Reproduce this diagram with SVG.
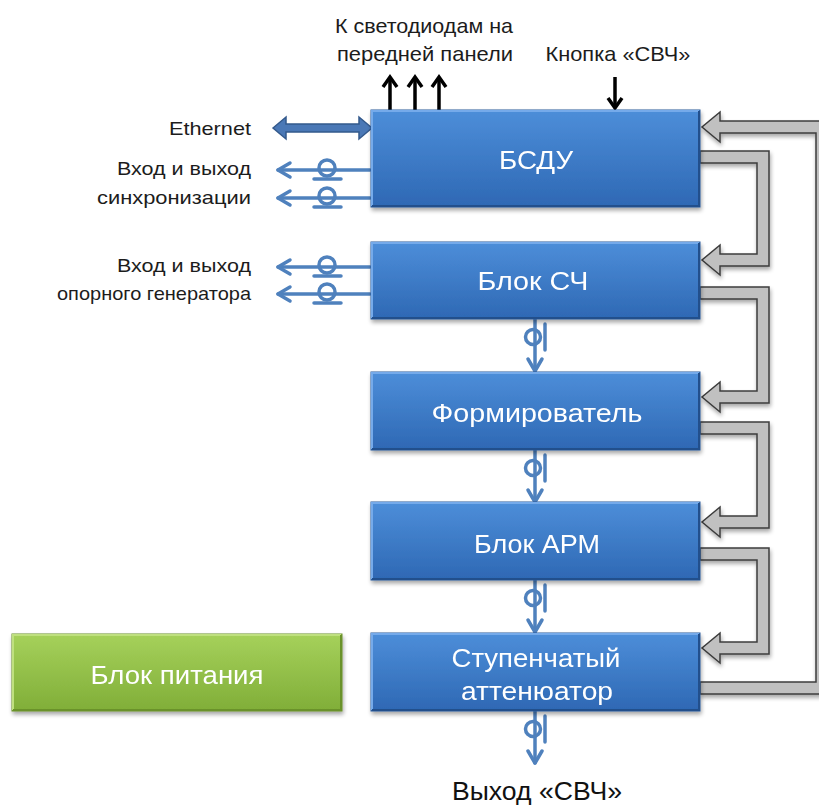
<svg xmlns="http://www.w3.org/2000/svg" width="819" height="805" viewBox="0 0 819 805">
<style>
.lbl{font-family:"Liberation Sans",Arial,sans-serif;font-size:19px;fill:#1c1c1c}
.top{font-family:"Liberation Sans",Arial,sans-serif;font-size:21px;fill:#1c1c1c}
.btxt{font-family:"Liberation Sans",Arial,sans-serif;font-size:26px;fill:#ffffff;text-anchor:middle}
.out{font-family:"Liberation Sans",Arial,sans-serif;font-size:25px;fill:#111;text-anchor:middle}
.blk{fill:url(#gBlue);stroke:#2a5a9a;stroke-width:1}
.grn{fill:url(#gGreen);stroke:#6a8f2a;stroke-width:1}
.hiB{fill:none;stroke:#74aaea;stroke-width:2}
.loB{fill:none;stroke:#22508c;stroke-width:2}
.hiG{fill:none;stroke:#bfe07f;stroke-width:2}
.loG{fill:none;stroke:#6b9229;stroke-width:2}
.bus{fill:#c0c0c0;stroke:#3c3c3c;stroke-width:1.5;stroke-linejoin:miter}
.sig{fill:none;stroke:#4f81bd;stroke-width:3.5;stroke-linecap:round;stroke-linejoin:round}
.blk-arrow{fill:none;stroke:#000;stroke-width:3.5}
</style>
<defs>
<linearGradient id="gBlue" x1="0" y1="0" x2="0" y2="1">
<stop offset="0" stop-color="#4d8ed9"/>
<stop offset="1" stop-color="#2e68b4"/>
</linearGradient>
<linearGradient id="gGreen" x1="0" y1="0" x2="0" y2="1">
<stop offset="0" stop-color="#a6d15b"/>
<stop offset="1" stop-color="#80ae38"/>
</linearGradient>
<filter id="sh" x="-10%" y="-10%" width="120%" height="130%">
<feGaussianBlur in="SourceAlpha" stdDeviation="2"/>
<feOffset dx="1" dy="3" result="o"/>
<feComponentTransfer><feFuncA type="linear" slope="0.35"/></feComponentTransfer>
<feMerge><feMergeNode/><feMergeNode in="SourceGraphic"/></feMerge>
</filter>
<g id="phiV">
<line x1="535" y1="0" x2="535" y2="52" class="sig"/>
<circle cx="533" cy="18" r="7.5" class="sig"/>
<line x1="545" y1="5" x2="545" y2="31" class="sig"/>
<polyline points="528,40 535,52 542,40" class="sig"/>
</g>
<g id="phiH">
<line x1="278" y1="0" x2="370" y2="0" class="sig"/>
<circle cx="327" cy="-2" r="8" class="sig"/>
<line x1="314" y1="9" x2="341" y2="9" class="sig"/>
<polyline points="290,-7 278,0 290,7" class="sig"/>
</g>
</defs>

<g id="connectors">
<polygon class="bus" filter="url(#sh)" points="700,151 769,151 769,266 720,266 720,275 702,260 720,245 720,254 757,254 757,163 700,163"/>
<polygon class="bus" filter="url(#sh)" points="700,287 769,287 769,403 720,403 720,412 702,397 720,382 720,391 757,391 757,299 700,299"/>
<polygon class="bus" filter="url(#sh)" points="700,422 769,422 769,528 720,528 720,537 702,522 720,507 720,516 757,516 757,434 700,434"/>
<polygon class="bus" filter="url(#sh)" points="700,548 769,548 769,654 720,654 720,663 702,648 720,633 720,642 757,642 757,560 700,560"/>
<polygon class="bus" filter="url(#sh)" points="700,682 816,682 816,133 720,133 720,142 702,127 720,112 720,121 830,121 830,694 700,694"/>
<polygon points="273,128 286,117 286,124 359,124 359,117 372,128 359,139 359,132 286,132 286,139" fill="#4a78b6" stroke="#33598c" stroke-width="1.5"/>
<use href="#phiH" transform="translate(0,170)"/>
<use href="#phiH" transform="translate(0,198)"/>
<use href="#phiH" transform="translate(0,267)"/>
<use href="#phiH" transform="translate(0,294)"/>
<use href="#phiV" transform="translate(0,319)"/>
<use href="#phiV" transform="translate(0,450)"/>
<use href="#phiV" transform="translate(0,580)"/>
<use href="#phiV" transform="translate(0,711)"/>
<g class="blk-arrow">
<line x1="390" y1="110" x2="390" y2="78"/><polyline points="383,87 390,77 397,87"/>
<line x1="415" y1="110" x2="415" y2="78"/><polyline points="408,87 415,77 422,87"/>
<line x1="439" y1="110" x2="439" y2="78"/><polyline points="432,87 439,77 446,87"/>
<line x1="615" y1="77" x2="615" y2="107"/><polyline points="608,98 615,108 622,98"/>
</g>
</g>

<g id="n-bsdu" filter="url(#sh)">
<rect class="blk" x="371" y="110" width="329" height="97"/>
<polyline class="hiB" points="372,206 372,111 699,111"/>
<polyline class="loB" points="699,111 699,206 372,206"/>
<text class="btxt" x="536" y="169" textLength="74" lengthAdjust="spacingAndGlyphs">БСДУ</text>
</g>
<g id="n-sch" filter="url(#sh)">
<rect class="blk" x="371" y="242" width="329" height="77"/>
<polyline class="hiB" points="372,318 372,243 699,243"/>
<polyline class="loB" points="699,243 699,318 372,318"/>
<text class="btxt" x="533" y="290" textLength="111" lengthAdjust="spacingAndGlyphs">Блок СЧ</text>
</g>
<g id="n-form" filter="url(#sh)">
<rect class="blk" x="371" y="372" width="329" height="78"/>
<polyline class="hiB" points="372,449 372,373 699,373"/>
<polyline class="loB" points="699,373 699,449 372,449"/>
<text class="btxt" x="537" y="422" textLength="211" lengthAdjust="spacingAndGlyphs">Формирователь</text>
</g>
<g id="n-arm" filter="url(#sh)">
<rect class="blk" x="371" y="502" width="329" height="78"/>
<polyline class="hiB" points="372,579 372,503 699,503"/>
<polyline class="loB" points="699,503 699,579 372,579"/>
<text class="btxt" x="537" y="553" textLength="126" lengthAdjust="spacingAndGlyphs">Блок АРМ</text>
</g>
<g id="n-att" filter="url(#sh)">
<rect class="blk" x="371" y="633" width="329" height="78"/>
<polyline class="hiB" points="372,710 372,634 699,634"/>
<polyline class="loB" points="699,634 699,710 372,710"/>
<text class="btxt" x="536" y="667" textLength="169" lengthAdjust="spacingAndGlyphs">Ступенчатый</text>
<text class="btxt" x="537" y="700" textLength="152" lengthAdjust="spacingAndGlyphs">аттенюатор</text>
</g>
<g id="n-power" filter="url(#sh)">
<rect class="grn" x="12" y="634" width="330" height="77"/>
<polyline class="hiG" points="13,710 13,635 341,635"/>
<polyline class="loG" points="341,635 341,710 13,710"/>
<text class="btxt" x="177" y="684" textLength="173" lengthAdjust="spacingAndGlyphs">Блок питания</text>
</g>

<g id="labels">
<text class="top" x="424" y="33" text-anchor="middle" textLength="178" lengthAdjust="spacingAndGlyphs">К светодиодам на</text>
<text class="top" x="425" y="61" text-anchor="middle" textLength="176" lengthAdjust="spacingAndGlyphs">передней панели</text>
<text class="top" x="618" y="61" text-anchor="middle" textLength="145" lengthAdjust="spacingAndGlyphs">Кнопка «СВЧ»</text>
<text class="lbl" x="251" y="135" text-anchor="end" textLength="82" lengthAdjust="spacingAndGlyphs">Ethernet</text>
<text class="lbl" x="251" y="175" text-anchor="end" textLength="134" lengthAdjust="spacingAndGlyphs">Вход и выход</text>
<text class="lbl" x="251" y="204" text-anchor="end" textLength="154" lengthAdjust="spacingAndGlyphs">синхронизации</text>
<text class="lbl" x="251" y="272" text-anchor="end" textLength="134" lengthAdjust="spacingAndGlyphs">Вход и выход</text>
<text class="lbl" x="251" y="300" text-anchor="end" textLength="194" lengthAdjust="spacingAndGlyphs">опорного генератора</text>
<text class="out" x="537" y="800" textLength="170" lengthAdjust="spacingAndGlyphs">Выход «СВЧ»</text>
</g>
</svg>
